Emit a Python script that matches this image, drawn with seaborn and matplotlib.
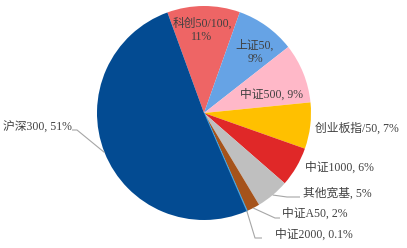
import numpy as np
import matplotlib
matplotlib.use("Agg")
import matplotlib.pyplot as plt
import seaborn as sns

sns.set_theme(style="white")
plt.rcParams['font.family'] = ['Liberation Serif', 'Noto Sans CJK SC', 'DejaVu Sans']

categories = ["科创50/100", "上证50", "中证500", "创业板指/50", "中证1000",
              "其他宽基", "中证A50", "中证2000", "沪深300"]
values = [11, 9, 9, 7, 6, 5, 2, 0.1, 51]
pct_labels = ["11%", "9%", "9%", "7%", "6%", "5%", "2%", "0.1%", "51%"]
colors = ["#EE6565", "#66A3E5", "#FFB8C8", "#FFC000", "#E02828",
          "#BFBFBF", "#A5531B", "#4FA3D9", "#034B92"]
sns.set_palette(colors)

W, H = 407, 248
fig = plt.figure(figsize=(W / 100, H / 100), dpi=100)
ax = fig.add_axes([0, 0, 1, 1])

def Y(y):
    return H - y

center = (204, Y(113))
radius = 107
wedges, _ = ax.pie(values, colors=sns.color_palette(), startangle=110, counterclock=False,
                   center=center, radius=radius, frame=True,
                   wedgeprops=dict(linewidth=0))
wedges[7].set_edgecolor(colors[7])
wedges[7].set_linewidth(0.9)
ax.set_xlim(0, W)
ax.set_ylim(0, H)
ax.set_aspect('equal')
ax.axis('off')

tc = "#404040"
fs = 8.5
lc = "#A6A6A6"

def lab(i, sep=", "):
    return categories[i] + sep + pct_labels[i]

# inside labels
ax.text(202, Y(30), categories[0] + ",\n" + pct_labels[0], ha='center', va='center',
        fontsize=fs, color=tc, linespacing=1.15)
ax.text(255, Y(52), categories[1] + ",\n" + pct_labels[1], ha='center', va='center',
        fontsize=fs, color=tc, linespacing=1.15)
ax.text(272, Y(95), lab(2), ha='center', va='center', fontsize=fs, color=tc)

# outside labels
ax.text(3, Y(128), lab(8), ha='left', va='center', fontsize=fs, color=tc)
ax.text(315, Y(129), lab(3), ha='left', va='center', fontsize=fs, color=tc)
ax.text(305, Y(168), lab(4), ha='left', va='center', fontsize=fs, color=tc)
ax.text(303, Y(194), lab(5), ha='left', va='center', fontsize=fs, color=tc)
ax.text(282, Y(214), lab(6), ha='left', va='center', fontsize=fs, color=tc)
ax.text(275, Y(235), lab(7), ha='left', va='center', fontsize=fs, color=tc)

def edge_point(w, frac=0.5, r=None):
    ang = np.deg2rad(w.theta1 + (w.theta2 - w.theta1) * frac)
    rr = w.r if r is None else r
    return (w.center[0] + rr * np.cos(ang), w.center[1] + rr * np.sin(ang))

def leader(w, pts, frac=0.5):
    p0 = edge_point(w, frac)
    xs = [p0[0]] + [p[0] for p in pts]
    ys = [p0[1]] + [Y(p[1]) for p in pts]
    ax.plot(xs, ys, color=lc, lw=0.8, solid_capstyle='butt')

leader(wedges[8], [(77, 130), (72, 130)])
leader(wedges[5], [(287, 197), (300, 197)])
leader(wedges[6], [(275, 218), (280, 218)])
leader(wedges[7], [(255, 238), (262, 238)])

fig.savefig("out.png", dpi=100)
